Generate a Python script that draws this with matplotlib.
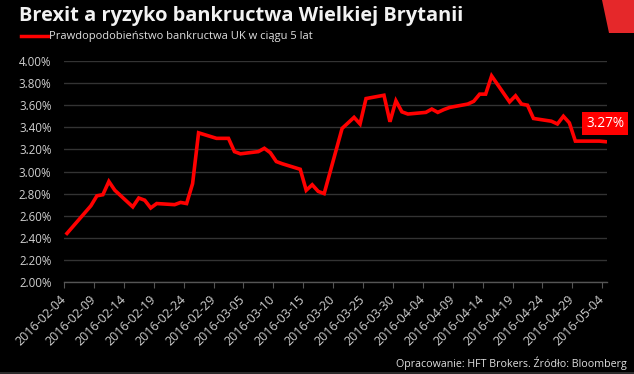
import numpy as np
import pandas as pd
import matplotlib
matplotlib.use("Agg")
from matplotlib import pyplot as plt
from matplotlib.patches import Polygon, Rectangle

dates = ["2016-02-04", "2016-02-08", "2016-02-09", "2016-02-10", "2016-02-11", "2016-02-12",
         "2016-02-15", "2016-02-16", "2016-02-17", "2016-02-18", "2016-02-19",
         "2016-02-22", "2016-02-23", "2016-02-24", "2016-02-25", "2016-02-26",
         "2016-02-29", "2016-03-01", "2016-03-02", "2016-03-03", "2016-03-04",
         "2016-03-07", "2016-03-08", "2016-03-09", "2016-03-10", "2016-03-11",
         "2016-03-14", "2016-03-15", "2016-03-16", "2016-03-17", "2016-03-18",
         "2016-03-21", "2016-03-22", "2016-03-23", "2016-03-24", "2016-03-25",
         "2016-03-28", "2016-03-29", "2016-03-30", "2016-03-31", "2016-04-01",
         "2016-04-04", "2016-04-05", "2016-04-06", "2016-04-07", "2016-04-08",
         "2016-04-11", "2016-04-12", "2016-04-13", "2016-04-14", "2016-04-15",
         "2016-04-18", "2016-04-19", "2016-04-20", "2016-04-21", "2016-04-22",
         "2016-04-25", "2016-04-26", "2016-04-27", "2016-04-28", "2016-04-29",
         "2016-05-02", "2016-05-03", "2016-05-04"]
default_prob = [2.44, 2.69, 2.78, 2.79, 2.91, 2.83,
                2.68, 2.76, 2.74, 2.67, 2.71,
                2.70, 2.72, 2.71, 2.89, 3.35,
                3.30, 3.30, 3.30, 3.18, 3.16,
                3.18, 3.21, 3.17, 3.09, 3.07,
                3.02, 2.83, 2.88, 2.82, 2.80,
                3.39, 3.44, 3.49, 3.43, 3.66,
                3.69, 3.45, 3.64, 3.54, 3.52,
                3.535, 3.565, 3.535, 3.56, 3.58,
                3.61, 3.635, 3.70, 3.70, 3.865,
                3.63, 3.685, 3.61, 3.60, 3.48,
                3.455, 3.43, 3.50, 3.44, 3.275,
                3.275, 3.275, 3.27]
last_label = "3.27%"

plt.rcParams["font.family"] = ["Open Sans", "DejaVu Sans"]

x = pd.to_datetime(dates) + pd.Timedelta(hours=12)

fig = plt.figure(figsize=(6.34, 3.74), dpi=100, facecolor="black")
ax = fig.add_axes([64 / 634, 1 - 282 / 374, 543 / 634, 221 / 374])
ax.set_facecolor("black")

ax.plot(x, default_prob, color="#ff0000", linewidth=2.6, solid_joinstyle="miter")

ax.set_ylim(2.0, 4.0)
ax.set_yticks(np.arange(2.0, 4.01, 0.2))
ax.yaxis.set_major_formatter(plt.FuncFormatter(lambda v, p: f"{v:.2f}%"))
ax.set_xlim(pd.Timestamp("2016-02-04"), pd.Timestamp("2016-05-04 19:00"))
tick_dates = pd.date_range("2016-02-04", "2016-05-04", freq="5D")
ax.set_xticks(tick_dates)
ax.set_xticklabels([d.strftime("%Y-%m-%d") for d in tick_dates])

ax.grid(axis="y", color="#333333", linewidth=1)
ax.set_axisbelow(True)
for s in ["top", "right", "left"]:
    ax.spines[s].set_visible(False)
ax.spines["bottom"].set_color("#555555")
ax.spines["bottom"].set_linewidth(1)

ax.tick_params(axis="y", length=0, pad=9, labelsize=8.3, labelcolor="#d0d0d0")
ax.tick_params(axis="x", length=4, color="#555555", pad=7, labelsize=9, labelcolor="#d0d0d0")
for lbl in ax.get_xticklabels():
    lbl.set_rotation(45)
    lbl.set_ha("right")
    lbl.set_va("center")
    lbl.set_rotation_mode("anchor")

# last value tag
ax.annotate(last_label, xy=(x[-1], default_prob[-1]), xytext=(0, 13), textcoords="offset points",
            ha="center", va="center", color="white", fontsize=9.8, annotation_clip=False,
            bbox=dict(boxstyle="square,pad=0.28", fc="#ff0000", ec="none"))

fig.text(19 / 634, 1 - 16 / 374, "Brexit a ryzyko bankructwa Wielkiej Brytanii", color="#f2f2f2",
         fontsize=14.4, fontweight="bold", va="center", ha="left")
fig.add_artist(plt.Line2D([21 / 634, 48 / 634], [1 - 36 / 374, 1 - 36 / 374], color="#ff0000", linewidth=2.5))
fig.text(49 / 634, 1 - 36 / 374, "Prawdopodobieństwo bankructwa UK w ciągu 5 lat", color="#e0e0e0",
         fontsize=8.0, va="center", ha="left")
fig.text(627 / 634, 1 - 363 / 374, "Opracowanie: HFT Brokers. Źródło: Bloomberg", color="#e0e0e0",
         fontsize=7.7, va="center", ha="right")

fig.add_artist(Polygon([[602 / 634, 1.0], [1.0, 1.0], [1.0, 1 - 33 / 374], [609 / 634, 1 - 33 / 374]],
                       closed=True, transform=fig.transFigure, facecolor="#e5282a", edgecolor="none"))
fig.add_artist(Rectangle((0, 0), 1, 2 / 374, transform=fig.transFigure, facecolor="#2b2b2b", edgecolor="none"))

fig.savefig("out.png", dpi=100, facecolor="black")
